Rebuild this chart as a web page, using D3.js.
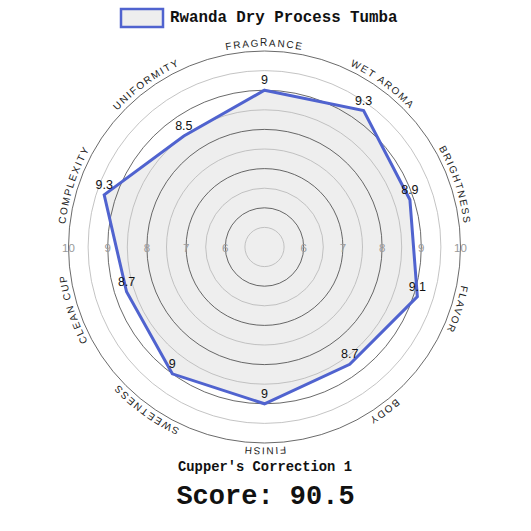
<!DOCTYPE html>
<html>
<head>
<meta charset="utf-8">
<script src="https://cdn.jsdelivr.net/npm/d3@7"></script>
<style>
  html, body { margin: 0; padding: 0; background: #fff; }
  svg { display: block; }
</style>
</head>
<body>
<svg id="chart" width="531" height="531"></svg>
<script>
const seriesName = "Rwanda Dry Process Tumba";
const categories = ["FRAGRANCE", "WET AROMA", "BRIGHTNESS", "FLAVOR", "BODY", "FINISH", "SWEETNESS", "CLEAN CUP", "COMPLEXITY", "UNIFORMITY"];
const values = [9, 9.3, 8.9, 9.1, 8.7, 9, 9, 8.7, 9.3, 8.5];
const valueLabels = ["9", "9.3", "8.9", "9.1", "8.7", "9", "9", "8.7", "9.3", "8.5"];
const ringValues = [5.5, 6, 6.5, 7, 7.5, 8, 8.5, 9, 9.5, 10];
const tickValues = [6, 7, 8, 9, 10];
const correctionText = "Cupper's Correction 1";
const scoreText = "Score: 90.5";

const svg = d3.select("#chart");
const cx = 264.5, cy = 247;
const r = d3.scaleLinear().domain([5, 10]).range([0, 196]);
const angle = d3.scaleLinear().domain([0, categories.length]).range([0, 2 * Math.PI]);
const blue = "#5063cf";

const g = svg.append("g").attr("transform", `translate(${cx},${cy})`);

// polygon fill
const pts = values.map((v, i) => [r(v) * Math.sin(angle(i)), -r(v) * Math.cos(angle(i))]);
const line = d3.line().curve(d3.curveLinearClosed);
g.append("path").attr("d", line(pts)).attr("fill", "#eeeeee").attr("stroke", "none");

// rings
g.selectAll("circle.ring").data(ringValues).enter().append("circle")
  .attr("r", d => r(d))
  .attr("fill", "none")
  .attr("stroke", d => Number.isInteger(d) ? "#444" : "#b5b5b5")
  .attr("stroke-width", 0.8);

// polygon stroke
g.append("path").attr("d", line(pts)).attr("fill", "none")
  .attr("stroke", blue).attr("stroke-width", 3).attr("stroke-linejoin", "miter");

// tick labels on horizontal axis
[-1, 1].forEach(s => {
  g.selectAll(null).data(tickValues).enter().append("text")
    .attr("x", d => s * r(d))
    .attr("y", 4.5)
    .attr("text-anchor", "middle")
    .attr("font-family", "Liberation Sans, Arial, sans-serif")
    .attr("font-size", 11.5)
    .attr("fill", "#9a9a9a")
    .text(d => d);
});

// value labels
g.selectAll("text.val").data(values).enter().append("text")
  .attr("class", "val")
  .attr("x", (d, i) => pts[i][0])
  .attr("y", (d, i) => pts[i][1] - 6)
  .attr("text-anchor", "middle")
  .attr("font-family", "Liberation Sans, Arial, sans-serif")
  .attr("font-size", 12.5)
  .attr("fill", "#111")
  .text((d, i) => valueLabels[i]);

// category labels on arcs
const R = 200.5;
const defs = svg.append("defs");
categories.forEach((c, i) => {
  const a0 = angle(i) - Math.PI / 2, a1 = angle(i) + Math.PI / 2;
  const x0 = R * Math.sin(a0), y0 = -R * Math.cos(a0);
  const x1 = R * Math.sin(a1), y1 = -R * Math.cos(a1);
  defs.append("path").attr("id", "arc" + i)
    .attr("d", `M${x0 + cx},${y0 + cy} A${R},${R} 0 0 1 ${x1 + cx},${y1 + cy}`);
  svg.append("text")
    .attr("font-family", "Liberation Sans, Arial, sans-serif")
    .attr("font-size", 10)
    .attr("letter-spacing", 1.6)
    .attr("fill", "#222")
    .append("textPath")
    .attr("href", "#arc" + i)
    .attr("startOffset", "50%")
    .attr("text-anchor", "middle")
    .text(c);
});

// legend
svg.append("rect").attr("x", 121).attr("y", 9).attr("width", 42).attr("height", 18)
  .attr("fill", "#eeeeee").attr("stroke", blue).attr("stroke-width", 2.5);
svg.append("text").attr("x", 170).attr("y", 22)
  .attr("font-family", "Liberation Mono, Courier New, monospace")
  .attr("font-weight", "bold").attr("font-size", 15.8).attr("fill", "#111")
  .text(seriesName);

// bottom texts
svg.append("text").attr("x", 265).attr("y", 471).attr("text-anchor", "middle")
  .attr("font-family", "Liberation Mono, Courier New, monospace")
  .attr("font-weight", "bold").attr("font-size", 13.8).attr("fill", "#111")
  .text(correctionText);
svg.append("text").attr("x", 265.5).attr("y", 504).attr("text-anchor", "middle")
  .attr("font-family", "Liberation Mono, Courier New, monospace")
  .attr("font-weight", "bold").attr("font-size", 27).attr("fill", "#111")
  .text(scoreText);
</script>
</body>
</html>
